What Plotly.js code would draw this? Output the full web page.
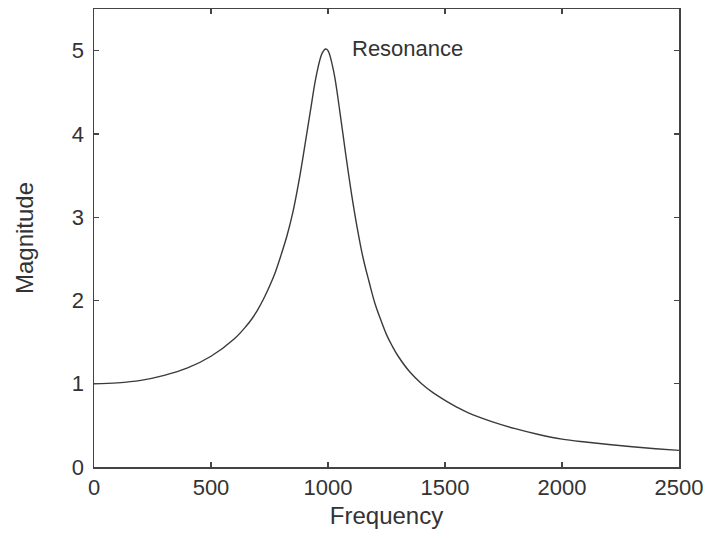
<!DOCTYPE html>
<html>
<head>
<meta charset="utf-8">
<script src="https://cdn.plot.ly/plotly-3.0.1.min.js"></script>
<style>html,body{margin:0;padding:0;background:#fff;}#chart{width:711px;height:542px;}</style>
</head>
<body>
<div id="chart"></div>
<script>
var frequency = [0, 100, 200, 300, 400, 500, 600, 650, 675, 700, 725, 750, 775, 800, 825, 850, 875, 900, 925, 950, 975, 990, 1000, 1025, 1050, 1075, 1100, 1125, 1150, 1175, 1200, 1225, 1250, 1275, 1300, 1350, 1400, 1450, 1500, 1550, 1600, 1700, 1800, 1900, 2000, 2100, 2200, 2300, 2400, 2500];
var magnitude = [1.00, 1.01, 1.04, 1.10, 1.19, 1.33, 1.54, 1.69, 1.78, 1.89, 2.02, 2.17, 2.34, 2.55, 2.78, 3.06, 3.42, 3.84, 4.28, 4.70, 4.97, 5.02, 5.00, 4.74, 4.28, 3.77, 3.29, 2.87, 2.51, 2.23, 1.97, 1.77, 1.59, 1.45, 1.33, 1.14, 1.00, 0.89, 0.80, 0.72, 0.65, 0.545, 0.46, 0.39, 0.335, 0.30, 0.27, 0.243, 0.22, 0.20];
var xTicks = [0, 500, 1000, 1500, 2000, 2500];
var yTicks = [0, 1, 2, 3, 4, 5];
var annotationText = "Resonance";
var annotationPos = [1340, 5.02];

var fontFam = "Liberation Sans, Arial, Helvetica, sans-serif";
var trace = {
  x: frequency, y: magnitude, type: 'scatter', mode: 'lines',
  line: {color: '#3a3a3a', width: 1.4, shape: 'spline', smoothing: 1},
  hoverinfo: 'skip'
};
var axisCommon = {
  showline: true, linecolor: '#444', linewidth: 1.5, mirror: 'ticks',
  ticks: 'inside', ticklen: 5, tickwidth: 1.2, tickcolor: '#444',
  showgrid: false, zeroline: false,
  tickfont: {family: fontFam, size: 22, color: '#333'}
};
var layout = {
  width: 711, height: 542,
  margin: {l: 94, r: 32, t: 9, b: 75},
  paper_bgcolor: '#fff', plot_bgcolor: '#fff',
  showlegend: false,
  xaxis: Object.assign({}, axisCommon, {
    range: [0, 2500], tickvals: xTicks, ticktext: xTicks.map(String),
    title: {text: 'Frequency', font: {family: fontFam, size: 24, color: '#333'}, standoff: 8}
  }),
  yaxis: Object.assign({}, axisCommon, {
    range: [0, 5.5], tickvals: yTicks, ticktext: yTicks.map(String),
    ticklabelstandoff: 4,
    title: {text: 'Magnitude', font: {family: fontFam, size: 24, color: '#333'}, standoff: 31}
  }),
  annotations: [{
    x: annotationPos[0], y: annotationPos[1], xref: 'x', yref: 'y',
    text: annotationText, showarrow: false,
    font: {family: fontFam, size: 22, color: '#333'}
  }]
};
Plotly.newPlot('chart', [trace], layout, {displayModeBar: false, staticPlot: true});
</script>
</body>
</html>
